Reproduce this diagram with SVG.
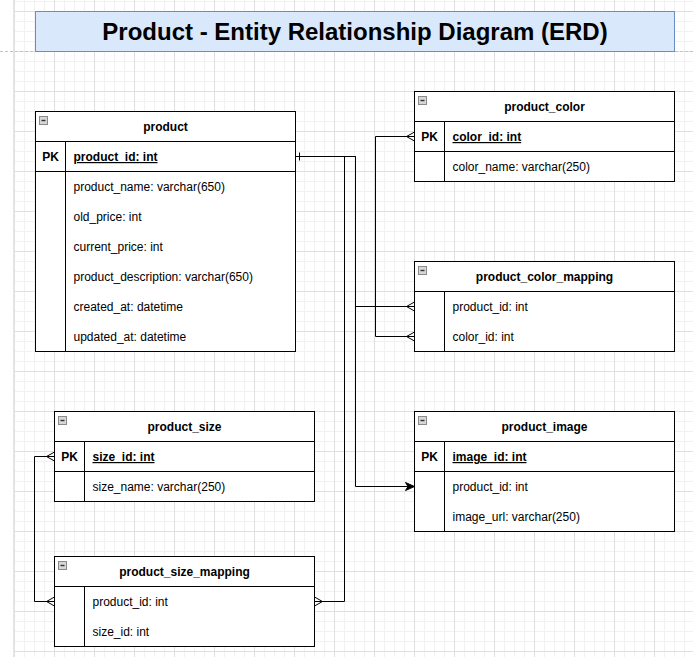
<svg xmlns="http://www.w3.org/2000/svg" width="693" height="657" viewBox="0 0 693 657">
<style>
text{font-family:"Liberation Sans",Arial,Helvetica,sans-serif;font-size:12px;fill:#000}
.title{font-size:24px;font-weight:bold}
.hdr{font-weight:bold;text-anchor:middle}
.pk{font-weight:bold;text-anchor:middle}
.pkf{font-weight:bold;text-decoration:underline}
.box{fill:#fff;stroke:#000;stroke-width:1}
.ln{fill:none;stroke:#000;stroke-width:1}
.ico{fill:#d6d6d6;stroke:#8a8a8a;stroke-width:1}
.icm{stroke:#333;stroke-width:1.4}
.edge{fill:none;stroke:#000;stroke-width:1}
</style>
<defs>
<pattern id="gMinor" x="14" y="1" width="10" height="10" patternUnits="userSpaceOnUse">
<path d="M0.5,0 V10 M0,0.5 H10" fill="none" stroke="#f1f1f1" stroke-width="1"/>
</pattern>
<pattern id="gMajor" x="14" y="11" width="40" height="40" patternUnits="userSpaceOnUse">
<path d="M0.5,0 V40 M0,0.5 H40" fill="none" stroke="#e0e0e0" stroke-width="1"/>
</pattern>
<marker id="many" viewBox="-10 -6 12 12" refX="0" refY="0" markerWidth="12" markerHeight="12" markerUnits="userSpaceOnUse" orient="auto-start-reverse">
<path d="M-8,0 L0,-4.5 M-8,0 L0,4.5" fill="none" stroke="#000" stroke-width="1"/>
</marker>
<marker id="arrow" viewBox="-11 -6 12 12" refX="0" refY="0" markerWidth="12" markerHeight="12" markerUnits="userSpaceOnUse" orient="auto">
<path d="M0,0 L-9,-4 L-6.5,0 L-9,4 Z" fill="#000" stroke="#000" stroke-width="1"/>
</marker>
</defs>

<g id="background">
<rect x="0" y="0" width="693" height="657" fill="#fff"/>
<rect x="14" y="0" width="679" height="657" fill="url(#gMinor)"/>
<rect x="14" y="0" width="679" height="657" fill="url(#gMajor)"/>
<line x1="13.5" y1="0" x2="13.5" y2="657" stroke="#e6e6e6" stroke-width="1"/>
<line x1="0" y1="51.5" x2="693" y2="51.5" stroke="#c4c4c4" stroke-width="1" stroke-dasharray="3,2"/>
</g>

<g id="title">
<rect x="35.5" y="11.5" width="639" height="40" fill="#dae8fc" stroke="#6c8ebf" stroke-width="1"/>
<text class="title" x="355" y="40" text-anchor="middle">Product - Entity Relationship Diagram (ERD)</text>
</g>

<g id="connectors">
<path class="edge" d="M295.5,156.5 H355.5 V306.5 H414.5" marker-end="url(#many)"/>
<path class="edge" d="M295.5,156.5 H344.5 V601.5 H314.5" marker-end="url(#many)"/>
<path class="edge" d="M295.5,156.5 H355.5 V486.5 H414.5" marker-end="url(#arrow)"/>
<path class="edge" d="M299.5,152.5 V160.5"/>
<path class="edge" d="M414.5,136.5 H375.5 V336.5 H414.5" marker-start="url(#many)" marker-end="url(#many)"/>
<path class="edge" d="M54.5,456.5 H34.5 V601.5 H54.5" marker-start="url(#many)" marker-end="url(#many)"/>
</g>

<g id="product">
<rect class="box" x="35.5" y="111.5" width="260" height="240"/>
<path class="ln" d="M35.5,141.5 H295.5 M35.5,171.5 H295.5 M65.5,141.5 V351.5"/>
<rect class="ico" x="39.5" y="116.5" width="8" height="8"/>
<line class="icm" x1="41.5" y1="120.5" x2="45.5" y2="120.5"/>
<text class="hdr" x="165.5" y="131">product</text>
<text class="pk" x="50.5" y="161">PK</text>
<text class="pkf" x="73.5" y="161">product_id: int</text>
<text x="73.5" y="191">product_name: varchar(650)</text>
<text x="73.5" y="221">old_price: int</text>
<text x="73.5" y="251">current_price: int</text>
<text x="73.5" y="281">product_description: varchar(650)</text>
<text x="73.5" y="311">created_at: datetime</text>
<text x="73.5" y="341">updated_at: datetime</text>
</g>

<g id="product_color">
<rect class="box" x="414.5" y="91.5" width="260" height="90"/>
<path class="ln" d="M414.5,121.5 H674.5 M414.5,151.5 H674.5 M444.5,121.5 V181.5"/>
<rect class="ico" x="418.5" y="96.5" width="8" height="8"/>
<line class="icm" x1="420.5" y1="100.5" x2="424.5" y2="100.5"/>
<text class="hdr" x="544.5" y="111">product_color</text>
<text class="pk" x="429.5" y="141">PK</text>
<text class="pkf" x="452.5" y="141">color_id: int</text>
<text x="452.5" y="171">color_name: varchar(250)</text>
</g>

<g id="product_color_mapping">
<rect class="box" x="414.5" y="261.5" width="260" height="90"/>
<path class="ln" d="M414.5,291.5 H674.5 M444.5,291.5 V351.5"/>
<rect class="ico" x="418.5" y="266.5" width="8" height="8"/>
<line class="icm" x1="420.5" y1="270.5" x2="424.5" y2="270.5"/>
<text class="hdr" x="544.5" y="281">product_color_mapping</text>
<text x="452.5" y="311">product_id: int</text>
<text x="452.5" y="341">color_id: int</text>
</g>

<g id="product_image">
<rect class="box" x="414.5" y="411.5" width="260" height="120"/>
<path class="ln" d="M414.5,441.5 H674.5 M414.5,471.5 H674.5 M444.5,441.5 V531.5"/>
<rect class="ico" x="418.5" y="416.5" width="8" height="8"/>
<line class="icm" x1="420.5" y1="420.5" x2="424.5" y2="420.5"/>
<text class="hdr" x="544.5" y="431">product_image</text>
<text class="pk" x="429.5" y="461">PK</text>
<text class="pkf" x="452.5" y="461">image_id: int</text>
<text x="452.5" y="491">product_id: int</text>
<text x="452.5" y="521">image_url: varchar(250)</text>
</g>

<g id="product_size">
<rect class="box" x="54.5" y="411.5" width="260" height="90"/>
<path class="ln" d="M54.5,441.5 H314.5 M54.5,471.5 H314.5 M84.5,441.5 V501.5"/>
<rect class="ico" x="58.5" y="416.5" width="8" height="8"/>
<line class="icm" x1="60.5" y1="420.5" x2="64.5" y2="420.5"/>
<text class="hdr" x="184.5" y="431">product_size</text>
<text class="pk" x="69.5" y="461">PK</text>
<text class="pkf" x="92.5" y="461">size_id: int</text>
<text x="92.5" y="491">size_name: varchar(250)</text>
</g>

<g id="product_size_mapping">
<rect class="box" x="54.5" y="556.5" width="260" height="90"/>
<path class="ln" d="M54.5,586.5 H314.5 M84.5,586.5 V646.5"/>
<rect class="ico" x="58.5" y="561.5" width="8" height="8"/>
<line class="icm" x1="60.5" y1="565.5" x2="64.5" y2="565.5"/>
<text class="hdr" x="184.5" y="576">product_size_mapping</text>
<text x="92.5" y="606">product_id: int</text>
<text x="92.5" y="636">size_id: int</text>
</g>
</svg>
